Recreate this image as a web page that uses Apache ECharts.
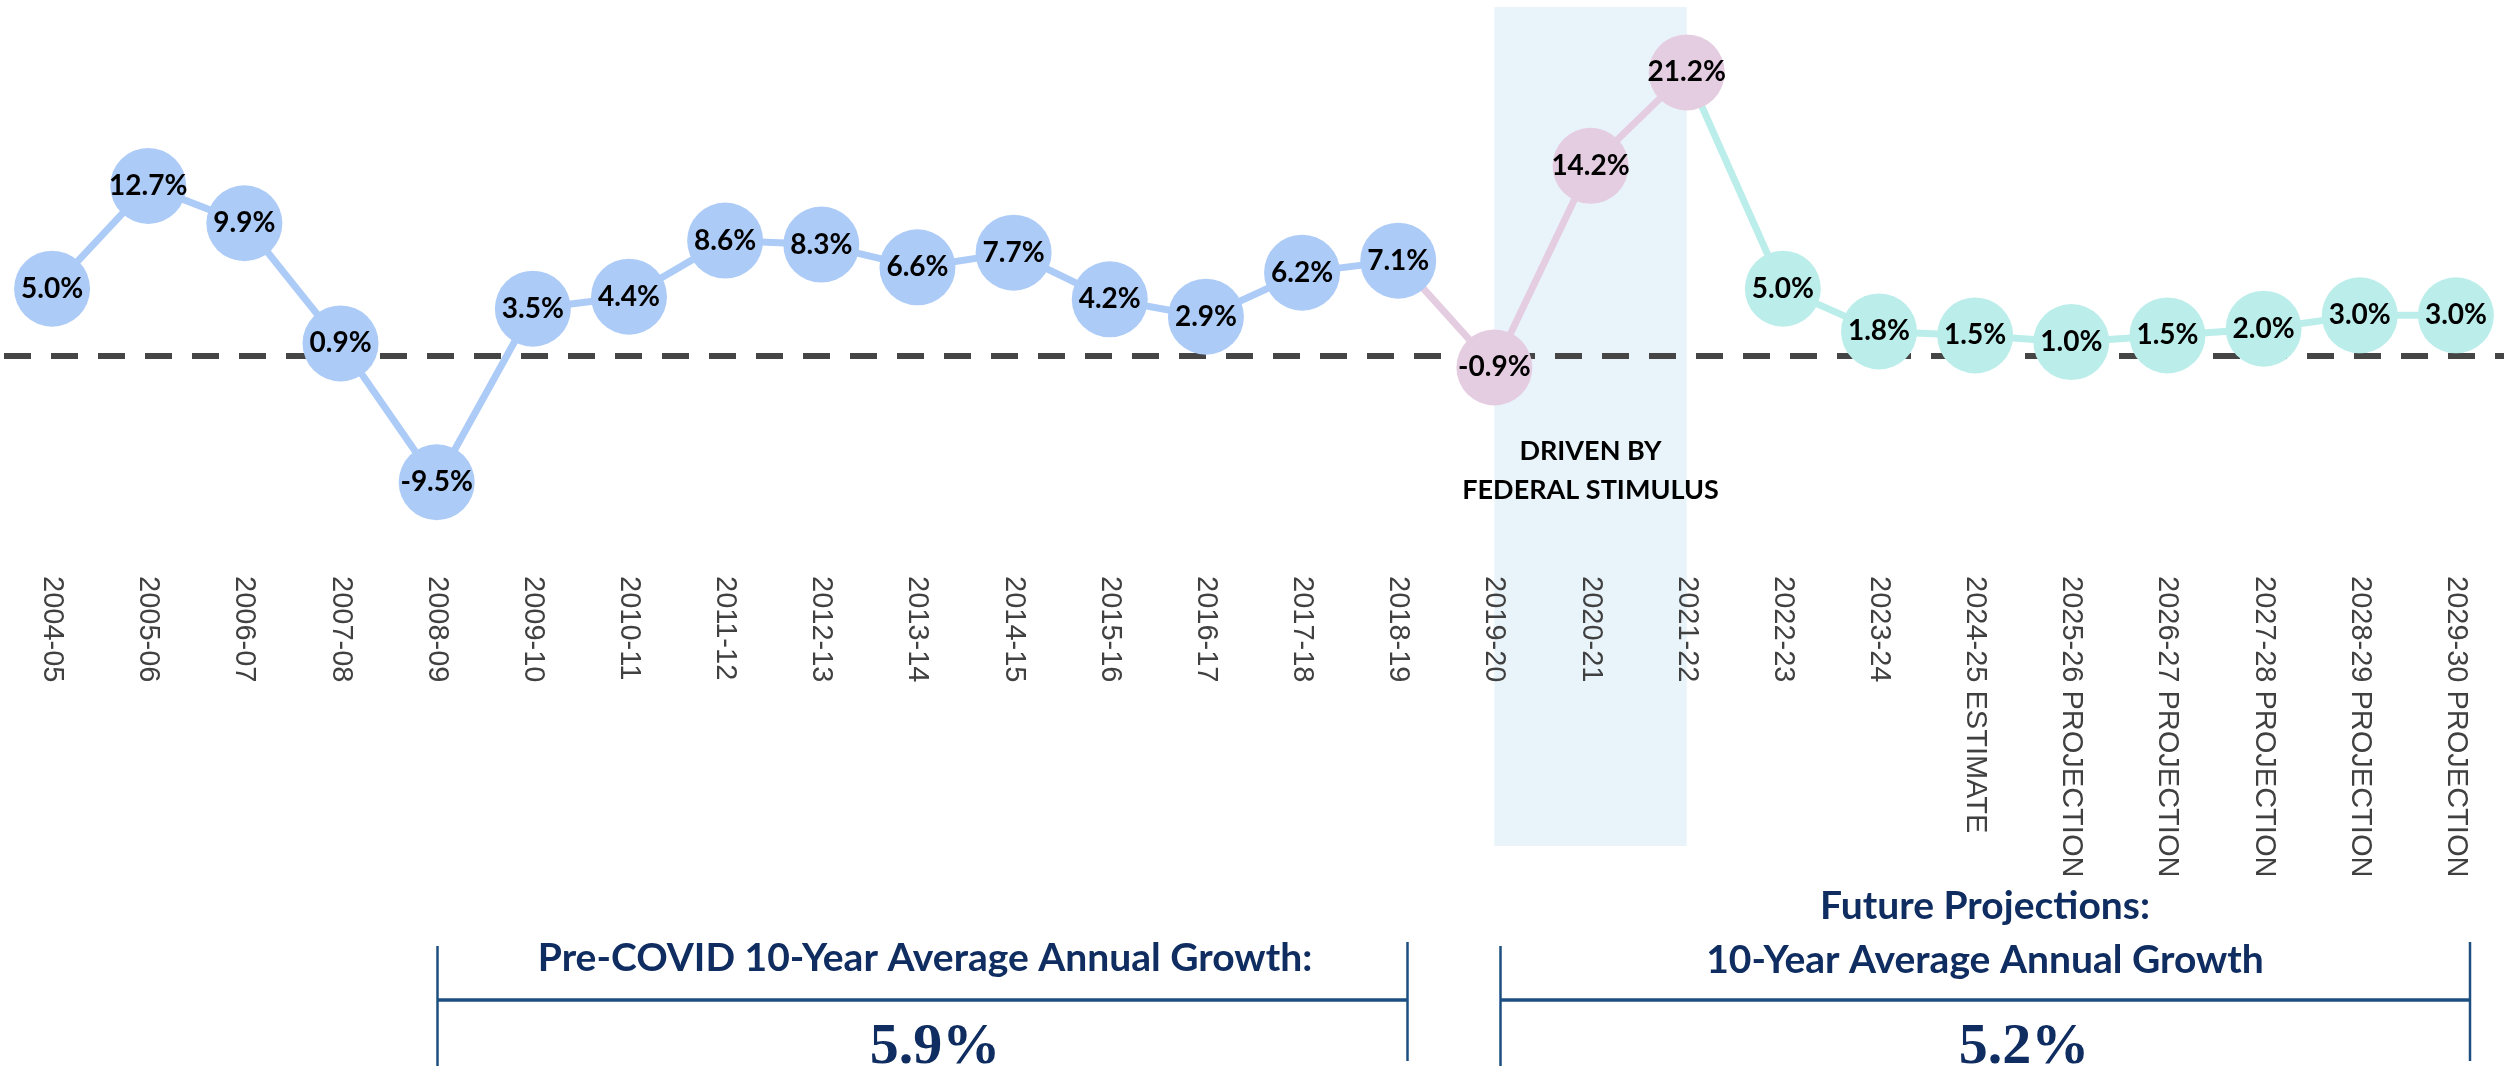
<!DOCTYPE html>
<html><head><meta charset="utf-8">
<script src="https://cdn.jsdelivr.net/npm/echarts@6/dist/echarts.min.js"></script>
<style>html,body{margin:0;padding:0;background:#fff}#c{width:2504px;height:1074px}</style>
</head><body><div id="c"></div>
<script>
// ---- data ----
const categories = ['2004-05','2005-06','2006-07','2007-08','2008-09','2009-10','2010-11','2011-12','2012-13','2013-14','2014-15','2015-16','2016-17','2017-18','2018-19','2019-20','2020-21','2021-22','2022-23','2023-24','2024-25 ESTIMATE','2025-26 PROJECTION','2026-27 PROJECTION','2027-28 PROJECTION','2028-29 PROJECTION','2029-30 PROJECTION'];
const preCovidValues = [5.0,12.7,9.9,0.9,-9.5,3.5,4.4,8.6,8.3,6.6,7.7,4.2,2.9,6.2,7.1];   // 2004-05 .. 2018-19
const stimulusValues = [-0.9,14.2,21.2];                                               // 2019-20 .. 2021-22
const projectionValues = [5.0,1.8,1.5,1.0,1.5,2.0,3.0,3.0];                            // 2022-23 .. 2029-30
const preCovidAverageLabel = '5.9%';
const futureAverageLabel = '5.2%';
const stimulusNote = 'DRIVEN BY\nFEDERAL STIMULUS';
const preCovidTitle = 'Pre-COVID 10-Year Average Annual Growth:';
const futureTitle1 = 'Future Projections:';
const futureTitle2 = '10-Year Average Annual Growth';

// ---- build full-length arrays ----
const N = categories.length;
const nP = preCovidValues.length, nS = stimulusValues.length;
const blank = () => new Array(N).fill('-');
const blueArr = blank(), pinkArr = blank(), tealArr = blank();
const pinkLine = blank(), tealLine = blank();
preCovidValues.forEach((v,i)=>{ blueArr[i]=v; });
stimulusValues.forEach((v,i)=>{ pinkArr[nP+i]=v; pinkLine[nP+i]=v; });
pinkLine[nP-1] = preCovidValues[nP-1];
projectionValues.forEach((v,i)=>{ tealArr[nP+nS+i]=v; tealLine[nP+nS+i]=v; });
tealLine[nP+nS-1] = stimulusValues[nS-1];

const BLUE = '#ADCBF7', PINK = '#E5CDE1', TEAL = '#BBEEEA';
const NAVY = '#0F2D60', BRACKET = '#1C4F80';
const Y_MIN = -36.75, Y_MAX = 26.1;

const labelStyle = {
  show: true, position: 'inside',
  formatter: p => Number(p.value).toFixed(1) + '%',
  fontFamily: 'Lato', fontWeight: 'bold', fontSize: 28, color: '#000'
};
function scatter(data, color){
  return { type:'scatter', data, symbol:'circle', symbolSize:76, z:5,
    itemStyle:{color, opacity:1}, label:labelStyle, emphasis:{disabled:true} };
}
function line(data, color){
  return { type:'line', data, showSymbol:false, symbol:'none', z:3, connectNulls:false,
    lineStyle:{color, width:7}, emphasis:{disabled:true} };
}

const chart = echarts.init(document.getElementById('c'), null, {renderer:'canvas'});
chart.setOption({
  animation:false,
  backgroundColor:'#fff',
  grid:{left:4, right:0, top:7, bottom:228, containLabel:false, outerBoundsMode:'none'},
  xAxis:{
    type:'category', data:categories, boundaryGap:true, offset:-278, z:8,
    axisLine:{show:false, onZero:false}, axisTick:{show:false}, splitLine:{show:false},
    axisLabel:{interval:0, rotate:-90, margin:8, fontFamily:'Liberation Sans', fontSize:29, color:'#404040'}
  },
  yAxis:{type:'value', min:Y_MIN, max:Y_MAX, show:false, splitLine:{show:false}},
  series:[
    { type:'line', data:blank(), z:0, silent:true,
      markArea:{silent:true, itemStyle:{color:'#E9F4FA'},
        data:[[{xAxis:categories[nP], yAxis:Y_MAX},{xAxis:categories[nP+nS-1], yAxis:Y_MIN}]]} },
    { type:'line', data:blank(), z:1, silent:true,
      markLine:{silent:true, symbol:'none', label:{show:false},
        lineStyle:{type:[27,20], color:'#454545', width:6},
        data:[{yAxis:0}]} },
    line(blueArr, BLUE), line(pinkLine, PINK), line(tealLine, TEAL),
    scatter(blueArr, BLUE), scatter(pinkArr, PINK), scatter(tealArr, TEAL)
  ]
});

const noteX = chart.convertToPixel({xAxisIndex:0}, categories[nP+1]);
function txt(text, x, y, font, fill, lh){
  return {type:'text', x, y, z:10, style:{text, font, fill, align:'center', verticalAlign:'middle',
    textAlign:'center', textVerticalAlign:'middle', lineHeight:lh}};
}
function ln(x1,y1,x2,y2,w){
  return {type:'line', z:10, shape:{x1,y1,x2,y2}, style:{stroke:BRACKET, lineWidth:w}};
}
chart.setOption({ graphic:[
  txt(stimulusNote, noteX, 471, 'bold 27px Lato', '#000', 39),
  txt(preCovidTitle, 925, 958, 'bold 39px Lato', NAVY),
  txt(futureTitle1, 1985, 906, 'bold 39px Lato', NAVY),
  txt(futureTitle2, 1985, 960, 'bold 39px Lato', NAVY),
  txt(preCovidAverageLabel, 935, 1048, 'bold 58px "Liberation Serif"', NAVY),
  txt(futureAverageLabel, 2024, 1048, 'bold 58px "Liberation Serif"', NAVY),
  ln(437.5, 946, 437.5, 1066, 2.5), ln(437.5, 1000, 1407.5, 1000, 3.5), ln(1407.5, 942, 1407.5, 1061, 2.5),
  ln(1500.5, 946, 1500.5, 1066, 2.5), ln(1500.5, 1000, 2470, 1000, 3.5), ln(2470, 942, 2470, 1061, 2.5)
]});
</script>
</body></html>
